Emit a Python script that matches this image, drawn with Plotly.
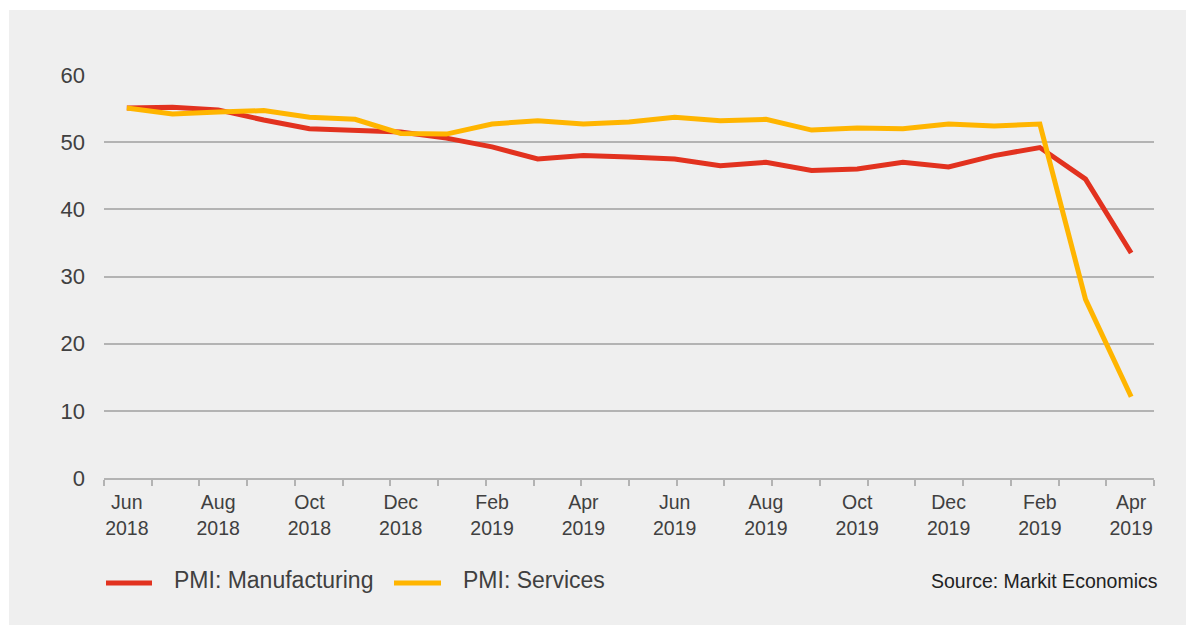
import plotly.graph_objects as go

# Monthly purchasing managers' index readings
months = list(range(23))
manufacturing = [55.1, 55.2, 54.8, 53.3, 52.0, 51.7, 51.5, 50.6, 49.3, 47.5, 48.0, 47.8,
                 47.5, 46.5, 47.0, 45.8, 46.0, 47.0, 46.3, 48.0, 49.2, 44.5, 33.5]
services = [55.1, 54.2, 54.5, 54.7, 53.7, 53.4, 51.3, 51.2, 52.7, 53.2, 52.7, 53.0,
            53.7, 53.2, 53.4, 51.8, 52.1, 52.0, 52.7, 52.4, 52.7, 26.6, 12.1]

tick_positions = list(range(0, 23, 2))
tick_labels = ["Jun<br>2018", "Aug<br>2018", "Oct<br>2018", "Dec<br>2018",
               "Feb<br>2019", "Apr<br>2019", "Jun<br>2019", "Aug<br>2019",
               "Oct<br>2019", "Dec<br>2019", "Feb<br>2019", "Apr<br>2019"]

series_names = ["PMI: Manufacturing", "PMI: Services"]
series_colors = ["#e2321f", "#ffb500"]
source_note = "Source: Markit Economics"

W, H = 1186, 626
L, R, T, B = 104, 32, 75, 148
PW, PH = W - L - R, H - T - B
FONT = "Arial, Liberation Sans, sans-serif"
GRID = "#b3b3b3"
TEXT = "#404040"
X_RANGE = [-0.5, 22.5]
N_TICK_GAPS = 22  # evenly spaced tick marks along the axis


def px_x(px):
    return (px - L) / PW


def px_y(py):
    return (H - B - py) / PH


fig = go.Figure()
for name, vals, col in zip(series_names, [manufacturing, services], series_colors):
    fig.add_trace(go.Scatter(x=months, y=vals, mode="lines", name=name,
                             line=dict(color=col, width=5), showlegend=False,
                             hoverinfo="x+y"))

shapes = [
    # light grey panel behind the whole chart
    dict(type="rect", xref="paper", yref="paper", layer="below",
         x0=px_x(9), x1=px_x(W + 5), y0=px_y(H - 1), y1=px_y(10),
         fillcolor="#efefef", line=dict(width=0)),
]
annotations = []

# legend swatches and labels
legend_items = [(106, 152, 172), (394, 441, 461)]
for (sx0, sx1, tx), name, col in zip(legend_items, series_names, series_colors):
    shapes.append(dict(type="line", xref="paper", yref="paper",
                       x0=px_x(sx0), x1=px_x(sx1), y0=px_y(583), y1=px_y(583),
                       line=dict(color=col, width=5)))
    annotations.append(dict(xref="paper", yref="paper", x=px_x(tx), y=px_y(580),
                            xanchor="left", yanchor="middle", showarrow=False,
                            text=name, font=dict(family=FONT, size=23, color=TEXT)))

annotations.append(dict(xref="paper", yref="paper", x=px_x(1160), y=px_y(581),
                        xanchor="right", yanchor="middle", showarrow=False,
                        text=source_note, font=dict(family=FONT, size=19.5, color="#222222")))

fig.update_layout(
    width=W, height=H,
    margin=dict(l=L, r=R, t=T, b=B),
    paper_bgcolor="white",
    plot_bgcolor="rgba(0,0,0,0)",
    font=dict(family=FONT, size=19.5, color=TEXT),
    shapes=shapes,
    annotations=annotations,
    xaxis=dict(range=X_RANGE, tickmode="array", tickvals=tick_positions,
               ticktext=tick_labels, ticks="", showgrid=False, zeroline=False,
               showline=True, linecolor=GRID, linewidth=2,
               tickfont=dict(family=FONT, size=19.5, color=TEXT),
               ticklabelstandoff=6,
               minor=dict(tickmode="linear", tick0=X_RANGE[0],
                          dtick=(X_RANGE[1] - X_RANGE[0]) / N_TICK_GAPS,
                          ticks="outside", ticklen=6, tickwidth=2,
                          tickcolor=GRID, showgrid=False)),
    yaxis=dict(range=[0, 60], tickmode="linear", tick0=0, dtick=10,
               showgrid=True, gridcolor=GRID, gridwidth=2, zeroline=False,
               showline=False, ticks="",
               tickfont=dict(family=FONT, size=22, color=TEXT),
               ticklabelstandoff=18),
)

fig.write_html("out.html")
